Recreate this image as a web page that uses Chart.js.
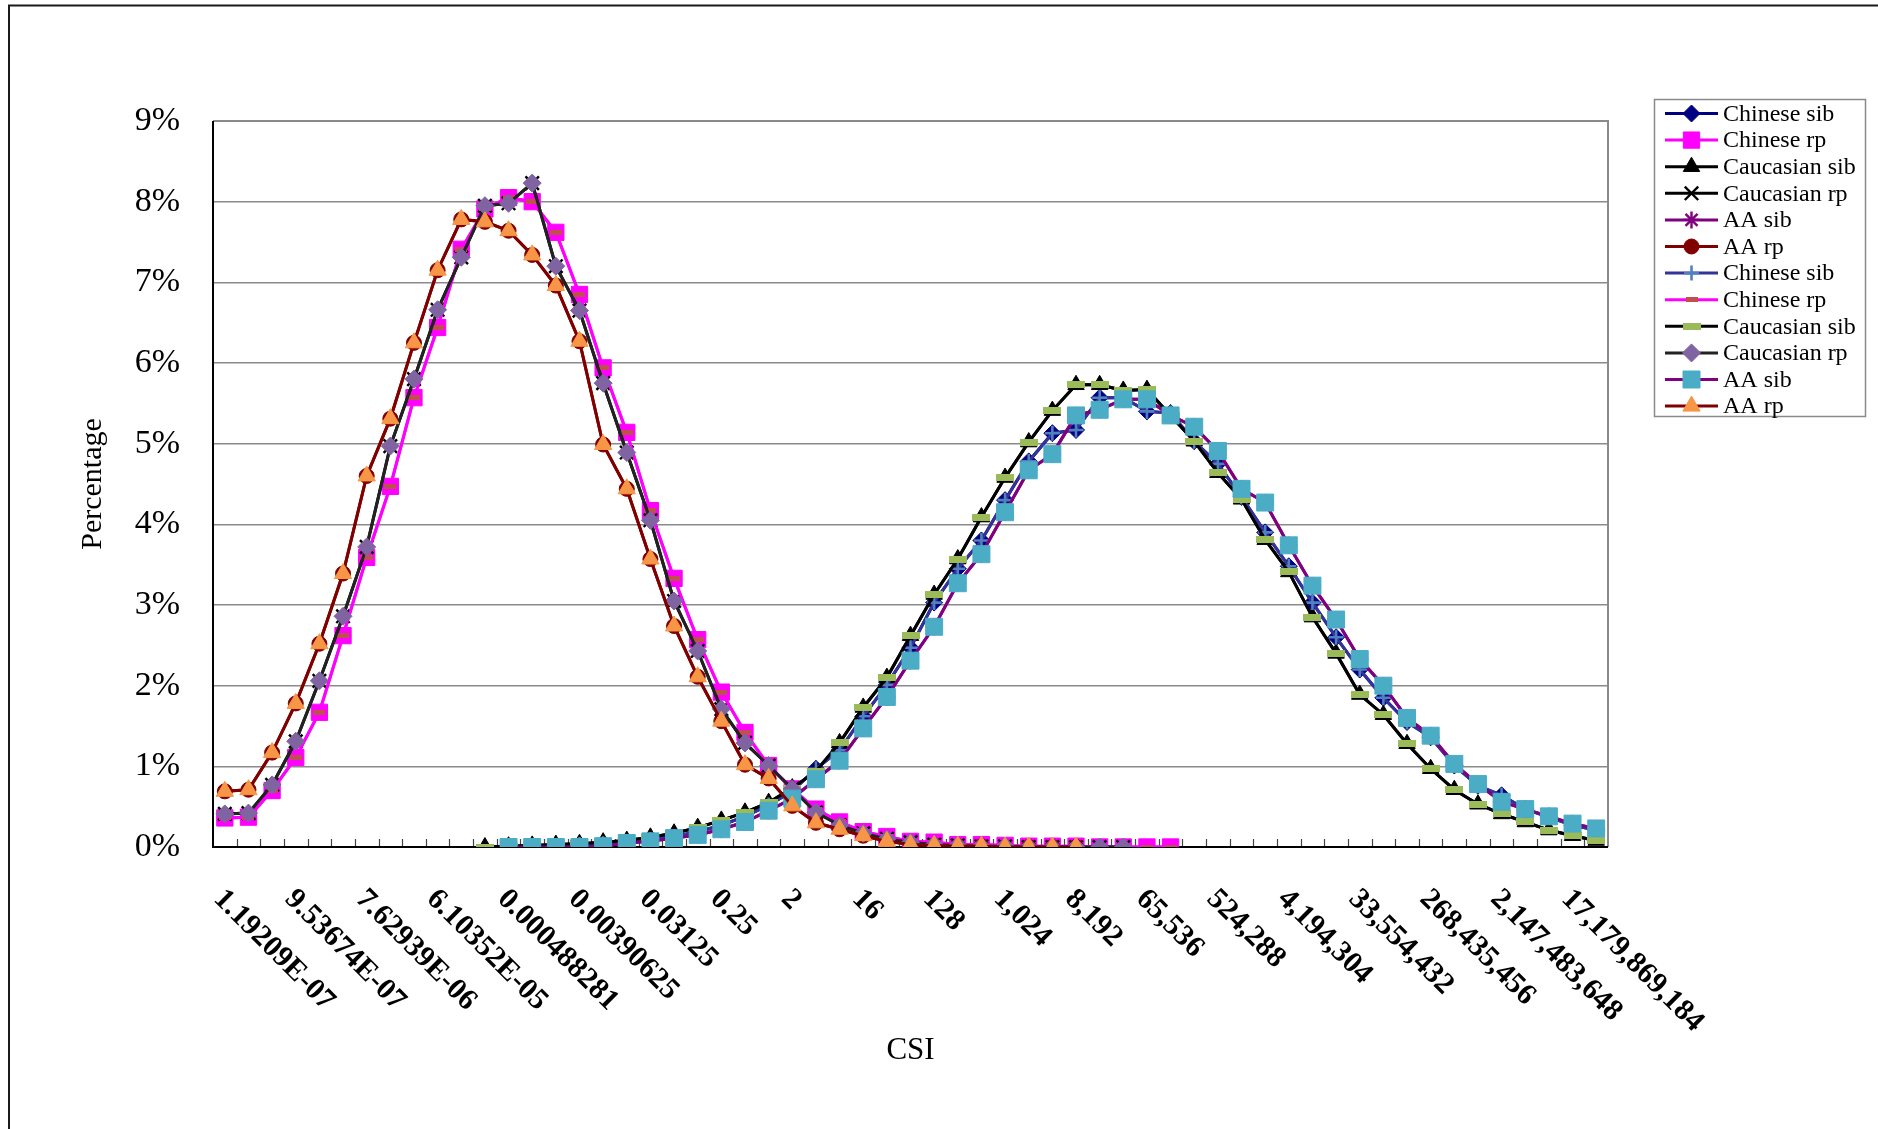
<!DOCTYPE html>
<html>
<head>
<meta charset="utf-8">
<script src="https://cdn.jsdelivr.net/npm/chart.js@4/dist/chart.umd.min.js"></script>
<style>
html,body{margin:0;padding:0;background:#fff;}
#wrap{position:relative;width:1878px;height:1129px;}
</style>
</head>
<body>
<div id="wrap"><canvas id="c"></canvas></div>
<script>
// ---------- DATA ----------
const categories = [
  "1.19209E-07","2.38419E-07","4.76837E-07","9.53674E-07","1.90735E-06","3.8147E-06",
  "7.62939E-06","1.52588E-05","3.05176E-05","6.10352E-05","0.00012207","0.000244141",
  "0.000488281","0.000976563","0.001953125","0.00390625","0.0078125","0.015625",
  "0.03125","0.0625","0.125","0.25","0.5","1",
  "2","4","8","16","32","64",
  "128","256","512","1,024","2,048","4,096",
  "8,192","16,384","32,768","65,536","131,072","262,144",
  "524,288","1,048,576","2,097,152","4,194,304","8,388,608","16,777,216",
  "33,554,432","67,108,864","134,217,728","268,435,456","536,870,912","1,073,741,824",
  "2,147,483,648","4,294,967,296","8,589,934,592","17,179,869,184","34,359,738,368"
];
const labelEvery = 3;
const yTickMax = 9;

const chineseSib = [null,null,null,null,null,null,null,null,null,null,null,null,
  0.00,0.01,0.02,0.03,0.04,0.06,0.09,0.13,0.19,0.27,0.38,0.52,0.69,0.97,1.20,1.62,2.01,2.47,
  3.03,3.45,3.80,4.30,4.78,5.13,5.17,5.57,5.57,5.40,5.38,5.03,4.75,4.34,3.90,3.48,3.03,2.60,
  2.20,1.85,1.55,1.36,1.01,0.76,0.64,0.47,0.37,0.27,0.21];
const chineseRp = [0.36,0.37,0.70,1.11,1.67,2.62,3.59,4.47,5.57,6.44,7.41,7.91,8.05,8.00,
  7.62,6.85,5.94,5.14,4.17,3.33,2.57,1.92,1.42,1.01,0.72,0.47,0.31,0.19,0.13,0.07,0.06,0.03,
  0.03,0.02,0.01,0.01,0.01,0.00,0.00,0.00,0.00,
  null,null,null,null,null,null,null,null,null,null,null,null,null,null,null,null,null,null];
const caucasianSib = [null,null,null,null,null,null,null,null,null,null,null,
  0.00,0.01,0.02,0.03,0.04,0.06,0.08,0.12,0.17,0.24,0.33,0.43,0.55,0.73,0.94,1.29,1.73,2.10,
  2.62,3.13,3.57,4.09,4.58,5.02,5.41,5.73,5.73,5.66,5.67,5.35,5.03,4.64,4.31,3.81,3.41,2.85,
  2.40,1.89,1.64,1.28,0.97,0.71,0.53,0.41,0.31,0.21,0.14,0.08];
const caucasianRp = [0.41,0.42,0.77,1.31,2.06,2.86,3.72,4.97,5.80,6.66,7.31,7.95,7.98,8.23,
  7.20,6.65,5.75,4.89,4.05,3.05,2.43,1.71,1.29,1.01,0.72,0.43,0.27,0.17,0.10,0.06,0.03,0.02,
  0.01,0.01,0.00,0.00,0.00,0.00,0.00,
  null,null,null,null,null,null,null,null,null,null,null,null,null,null,null,null,null,null,null,null];
const aaSib = [null,null,null,null,null,null,null,null,null,null,null,null,
  0.00,0.00,0.00,0.00,0.01,0.05,0.07,0.11,0.15,0.22,0.31,0.45,0.60,0.84,1.07,1.47,1.86,2.31,
  2.73,3.27,3.63,4.15,4.67,4.87,5.35,5.42,5.55,5.55,5.35,5.21,4.91,4.44,4.27,3.74,3.24,2.82,
  2.33,2.00,1.60,1.38,1.03,0.78,0.56,0.47,0.38,0.29,0.23];
const aaRp = [0.69,0.71,1.17,1.78,2.52,3.39,4.60,5.31,6.25,7.15,7.78,7.75,7.64,7.34,6.96,
  6.27,4.99,4.44,3.57,2.74,2.11,1.56,1.02,0.85,0.51,0.30,0.22,0.14,0.07,0.03,0.02,0.01,0.01,
  0.00,0.00,0.00,0.00,
  null,null,null,null,null,null,null,null,null,null,null,null,null,null,null,null,null,null,null,null,null,null];

const seriesNames = ["Chinese sib","Chinese rp","Caucasian sib","Caucasian rp","AA sib","AA rp",
  "Chinese sib","Chinese rp","Caucasian sib","Caucasian rp","AA sib","AA rp"];
const seriesData = [chineseSib,chineseRp,caucasianSib,caucasianRp,aaSib,aaRp,
  chineseSib,chineseRp,caucasianSib,caucasianRp,aaSib,aaRp];

// ---------- STYLE ----------
const FONT = "'Liberation Serif','Times New Roman',serif";
function dashImg(w,h,color){const c=document.createElement('canvas');c.width=w;c.height=h;const g=c.getContext('2d');g.fillStyle=color;g.fillRect(0,0,w,h);return c;}
const styles = [
  {line:'#000080', marker:'rectRot', r:8.5, fill:'#000080', stroke:'#000080', bw:1},
  {line:'#FF00FF', marker:'rect',    r:11.5,fill:'#FF00FF', stroke:'#FF00FF', bw:1},
  {line:'#000000', marker:'triangle',r:9.5, fill:'#000000', stroke:'#000000', bw:1},
  {line:'#000000', marker:'crossRot',r:9.5, fill:'#000000', stroke:'#000000', bw:2.4},
  {line:'#800080', marker:'star',    r:8.5, fill:'#800080', stroke:'#800080', bw:2.4},
  {line:'#800000', marker:'circle',  r:7.5, fill:'#800000', stroke:'#800000', bw:1},
  {line:'#333399', marker:'cross',   r:7.5, fill:'#4F81BD', stroke:'#4F81BD', bw:2.6},
  {line:'#FF00FF', marker:dashImg(12,5,'#C0504D'), r:7, fill:'#C0504D', stroke:'#C0504D', bw:0},
  {line:'#000000', marker:dashImg(18,7,'#9BBB59'), r:9, fill:'#9BBB59', stroke:'#9BBB59', bw:0},
  {line:'#222222', marker:'rectRot', r:9,   fill:'#8064A2', stroke:'#8064A2', bw:1},
  {line:'#800080', marker:'rect',    r:12,  fill:'#4BACC6', stroke:'#4BACC6', bw:1},
  {line:'#800000', marker:'triangle',r:10,  fill:'#F79646', stroke:'#F79646', bw:1}
];

const datasets = seriesData.map((d,i)=>({
  label: seriesNames[i], data: d,
  borderColor: styles[i].line, borderWidth: 3, fill:false, tension:0, spanGaps:false,
  pointStyle: styles[i].marker, pointRadius: styles[i].r, pointHoverRadius: styles[i].r,
  pointBackgroundColor: styles[i].fill, pointBorderColor: styles[i].stroke,
  pointBorderWidth: styles[i].bw, order: seriesData.length - i
}));

function drawMarker(ctx, ds, x, y){
  ctx.save();
  ctx.fillStyle = ds.pointBackgroundColor; ctx.strokeStyle = ds.pointBorderColor;
  ctx.lineWidth = ds.pointBorderWidth;
  if (Chart.helpers && Chart.helpers.drawPoint) {
    Chart.helpers.drawPoint(ctx, {pointStyle: ds.pointStyle, radius: ds.pointRadius, rotation: 0, borderWidth: ds.pointBorderWidth}, x, y);
  } else {
    const s = ds.pointStyle, r = ds.pointRadius;
    if (typeof s !== 'string') { ctx.drawImage(s, x - s.width/2, y - s.height/2); }
    else { ctx.beginPath(); ctx.arc(x,y,r,0,Math.PI*2); ctx.fill(); }
  }
  ctx.restore();
}

const decor = {
  id:'decor',
  beforeDraw(chart){
    const ctx = chart.ctx; ctx.save();
    ctx.fillStyle='#fff'; ctx.fillRect(0,0,chart.width,chart.height);
    ctx.strokeStyle='#1a1a1a'; ctx.lineWidth=2;
    ctx.beginPath(); ctx.moveTo(9, chart.height); ctx.lineTo(9, 5.5); ctx.lineTo(chart.width, 5.5); ctx.stroke();
    ctx.restore();
  },
  beforeDatasetsDraw(chart){
    const {ctx, chartArea:a, scales:{x}} = chart; ctx.save();
    ctx.strokeStyle='#8a8a8a'; ctx.lineWidth=2;
    ctx.beginPath(); ctx.moveTo(a.left,a.top); ctx.lineTo(a.right,a.top); ctx.lineTo(a.right,a.bottom); ctx.stroke();
    ctx.strokeStyle='#444'; ctx.lineWidth=1.2; ctx.beginPath();
    for (let i=1;i<categories.length;i++){
      const px = Math.round((x.getPixelForValue(i-1)+x.getPixelForValue(i))/2)+0.5;
      ctx.moveTo(px, a.bottom); ctx.lineTo(px, a.bottom-8);
    }
    ctx.stroke();
    ctx.strokeStyle='#000'; ctx.lineWidth=2;
    ctx.beginPath(); ctx.moveTo(a.left, a.top); ctx.lineTo(a.left, a.bottom); ctx.lineTo(a.right, a.bottom); ctx.stroke();
    ctx.restore();
  },
  afterDraw(chart){
    const {ctx, scales:{x}} = chart; ctx.save();
    ctx.fillStyle='#000'; ctx.font = "bold 30px " + FONT; ctx.textAlign='left'; ctx.textBaseline='alphabetic';
    for (let i=0;i<categories.length;i+=labelEvery){
      const px = x.getPixelForValue(i);
      ctx.save(); ctx.translate(px-12, 900); ctx.rotate(Math.PI/4); ctx.fillText(categories[i],0,0); ctx.restore();
    }
    const L=1654.5, T=99.5, W=211, H=317, row=26.6, y0=113.5;
    ctx.fillStyle='#fff'; ctx.fillRect(L,T,W,H);
    ctx.strokeStyle='#8a8a8a'; ctx.lineWidth=1.5; ctx.strokeRect(L,T,W,H);
    ctx.font = "24px " + FONT; ctx.textBaseline='middle';
    chart.data.datasets.forEach((ds,i)=>{
      const y = y0 + i*row;
      ctx.strokeStyle = ds.borderColor; ctx.lineWidth = 3;
      ctx.beginPath(); ctx.moveTo(1665,y); ctx.lineTo(1718,y); ctx.stroke();
      drawMarker(ctx, ds, 1691.5, y);
      ctx.fillStyle='#000'; ctx.fillText(ds.label, 1723, y+1);
    });
    ctx.restore();
  }
};

new Chart(document.getElementById('c'), {
  type:'line',
  data:{ labels: categories, datasets },
  options:{
    responsive:true, maintainAspectRatio:false, animation:false, devicePixelRatio:1,
    layout:{ padding:{left:0, top:121, right:270, bottom:0} },
    plugins:{ legend:{display:false}, tooltip:{enabled:false} },
    scales:{
      x:{ type:'category', offset:true,
          grid:{display:false}, border:{display:false}, ticks:{display:false},
          title:{display:true, text:'CSI', color:'#000', font:{family:FONT, size:31}, padding:{top:0,bottom:60}},
          afterFit(s){ s.height = 282; } },
      y:{ min:0, max:yTickMax,
          ticks:{stepSize:1, callback:v=>v+'%', color:'#000', font:{family:FONT, size:34}, padding:33},
          grid:{color:'#8a8a8a', lineWidth:1.5, drawTicks:false}, border:{display:false},
          title:{display:true, text:'Percentage', color:'#000', font:{family:FONT, size:30}, padding:{top:75,bottom:0}},
          afterFit(s){ s.width = 213; } }
    }
  },
  plugins:[decor]
});
</script>
</body>
</html>
